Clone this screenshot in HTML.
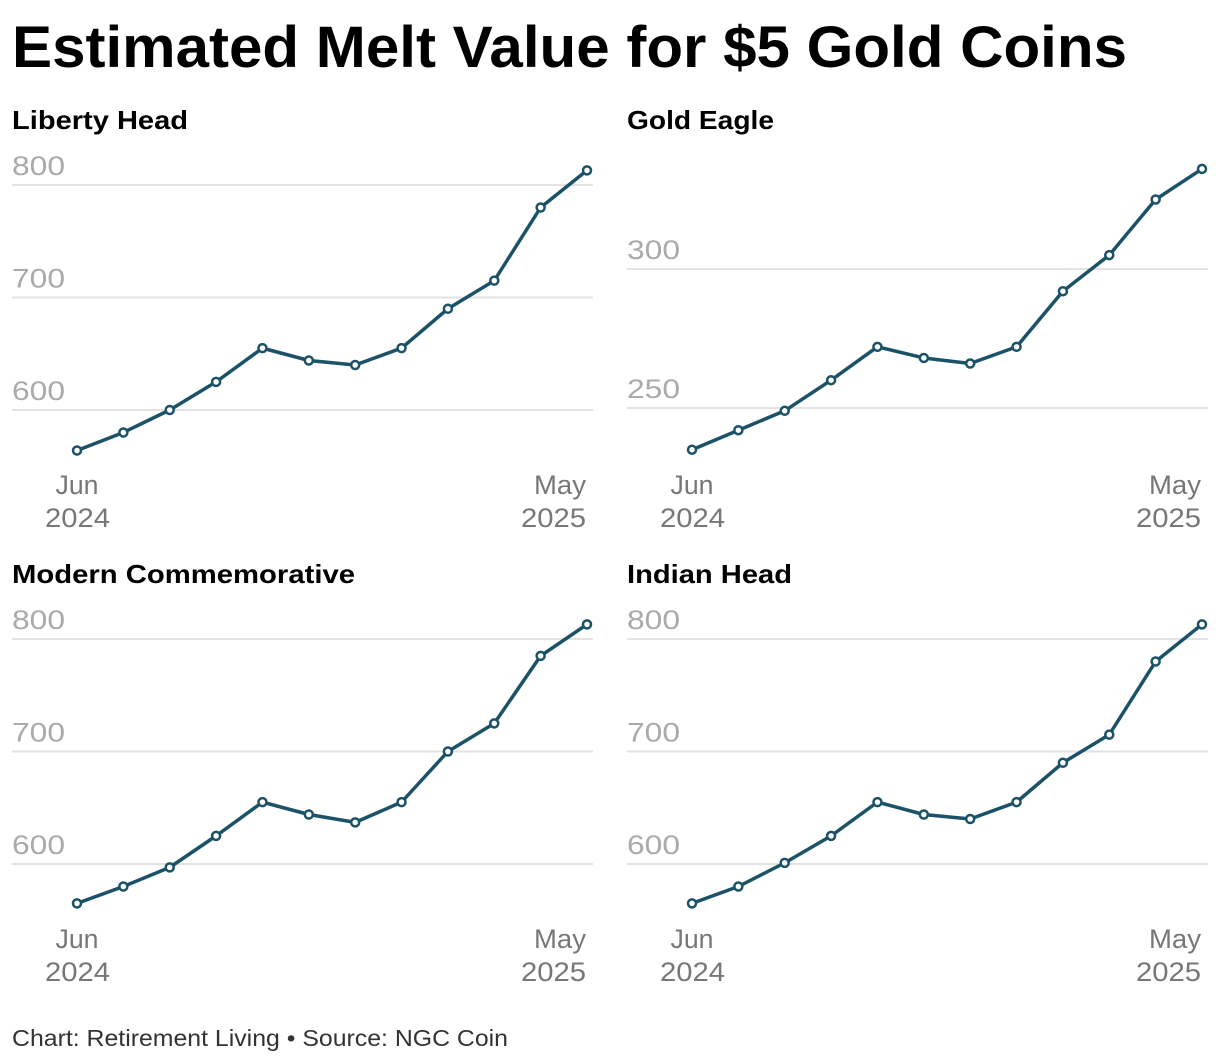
<!DOCTYPE html>
<html><head><meta charset="utf-8"><style>
body{margin:0;background:#fff;font-family:"Liberation Sans",sans-serif;width:1220px;height:1062px;overflow:hidden}
svg{position:absolute;left:0;top:0}
</style></head><body>
<svg id="c" width="1220" height="1062">
<text x="12" y="67" font-size="58" font-weight="bold" fill="#000" textLength="1115" lengthAdjust="spacingAndGlyphs">Estimated Melt Value for $5 Gold Coins</text>
<text x="12" y="1046" font-size="23" fill="#333" textLength="496" lengthAdjust="spacingAndGlyphs">Chart: Retirement Living • Source: NGC Coin</text>
</svg>
<script>
const months=["Jun 2024","Jul","Aug","Sep","Oct","Nov","Dec","Jan","Feb","Mar","Apr","May 2025"];
const libertyHead=[564,580,600,625,655,644,640,655,690,715,780,813];
const goldEagle=[235,242,249,260,272,268,266,272,292,305,325,336];
const modernComm=[565,580,597,625,655,644,637,655,700,725,785,813];
const indianHead=[565,580,601,625,655,644,640,655,690,715,780,813];
const titles=["Liberty Head","Gold Eagle","Modern Commemorative","Indian Head"];
const series=[libertyHead,goldEagle,modernComm,indianHead];
const ticks=[[600,700,800],[250,300],[600,700,800],[600,700,800]];
const domains=[[600,800],[250,300],[600,800],[600,800]];
const titleLens=[176,147,343,165];
const NS="http://www.w3.org/2000/svg";
const svg=document.getElementById('c');
function mk(t,a,p){const e=document.createElementNS(NS,t);for(const k in a)e.setAttribute(k,a[k]);(p||svg).appendChild(e);return e;}
const layout=[{ox:0,oy:0},{ox:615,oy:0},{ox:0,oy:454},{ox:615,oy:454}];
const pix=[[410,185],[408,269],[410,185],[410,185]];
series.forEach((vals,i)=>{
  const {ox,oy}=layout[i];
  const g=mk('g',{});
  
  
  const [d0,d1]=domains[i];const [p0,p1]=pix[i];
  const y=v=>oy+p0+(v-d0)*(p1-p0)/(d1-d0);
  const x=j=>ox+77+j*(587-77)/(months.length-1);
  const t=mk('text',{x:ox+12,y:oy+129,'font-size':26,'font-weight':'bold',fill:'#000',textLength:titleLens[i],lengthAdjust:'spacingAndGlyphs'},g);
  t.textContent=titles[i];
  
  
  ticks[i].forEach(tv=>{
    const gl=mk('line',{x1:ox+12,x2:ox+593,y1:y(tv),y2:y(tv),stroke:'#e2e2e2','stroke-width':2},g);
    
    
    const tl=mk('text',{x:ox+12,y:y(tv)-10,'font-size':27,fill:'#aaa',textLength:53,lengthAdjust:'spacingAndGlyphs'},g);
    tl.textContent=tv;
    
    
  });
  [["Jun","2024",45,77,43],["May","2025",521,560,52]].forEach(([a,b,xx,xa,wa])=>{
    const l=mk('text',{x:ox+xa,y:oy+494,'font-size':27,fill:'#777','text-anchor':'middle',textLength:wa,lengthAdjust:'spacingAndGlyphs'},g);
    l.textContent=a;
    
    
    const l2=mk('text',{x:ox+xx,y:oy+527,'font-size':27,fill:'#777',textLength:65,lengthAdjust:'spacingAndGlyphs'},g);
    l2.textContent=b;
    
    
  });
  const pts=vals.map((v,j)=>x(j)+','+y(v)).join(' ');
  const pl=mk('polyline',{points:pts,fill:'none',stroke:'#1b5268','stroke-width':3.5,'stroke-linejoin':'round'},g);
  
  
  vals.forEach((v,j)=>{
    const c=mk('circle',{cx:x(j),cy:y(v),r:4,fill:'#fff',stroke:'#1b5268','stroke-width':2.5},g);
    
    
  });
});
</script>
</body></html>
